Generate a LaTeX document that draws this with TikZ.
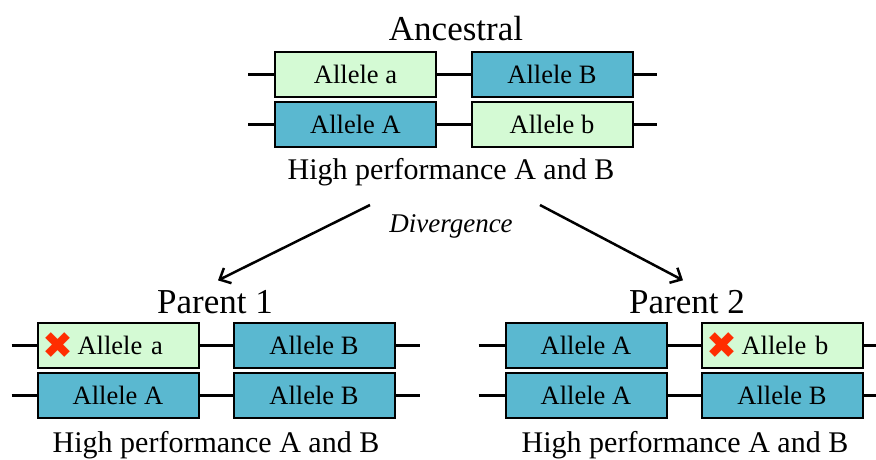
\documentclass[tikz,border=0pt]{standalone}
\usepackage{fontspec}
\setmainfont{Liberation Serif}
\newfontfamily\symfont{DejaVu Sans}
\usepackage{xcolor}
\usetikzlibrary{arrows.meta}

\definecolor{allelelow}{RGB}{212,250,212}
\definecolor{allelehigh}{RGB}{90,184,208}
\definecolor{crossred}{RGB}{255,45,0}
\newcommand{\xmark}{\smash{\raisebox{-4pt}{\symfont\fontsize{37}{37}\selectfont\textcolor{crossred}{✖}}}}

\begin{document}
\begin{tikzpicture}[x=1pt, y=-1pt,
	box/.style={draw, line width=2pt, minimum width=161pt, minimum height=45pt, inner sep=0pt, font=\fontsize{26.5}{28}\selectfont},
	lowbox/.style={box, fill=allelelow},
	highbox/.style={box, fill=allelehigh},
	lostbox/.style={lowbox, inner xsep=5pt, text width=151pt, align=left},
	chrom/.style={line width=3pt},
	title/.style={anchor=base, font=\fontsize{35}{40}\selectfont},
	perf/.style={anchor=base, font=\fontsize{30}{34}\selectfont},
	divarrow/.style={line width=2.5pt, -{Straight Barb[length=9pt, width=17pt, line width=2.5pt]}}]
	\useasboundingbox (0, 0) rectangle (876, 459);

	% ancestral
		\node[title] (anc) at (456, 40) {Ancestral};
		\node[lowbox] (anca) at (355.5, 74.5) {Allele a};
		\node[highbox] (ancB) at (552, 74.5) {Allele B};
		\node[highbox] (ancA) at (355.5, 124.5) {Allele A};
		\node[lowbox] (ancb) at (552, 124.5) {Allele b};
		\draw[chrom] ([xshift=-26pt]anca.west) -- (anca.west) (anca.east) -- (ancB.west) (ancB.east) -- ([xshift=23pt]ancB.east);
		\draw[chrom] ([xshift=-26pt]ancA.west) -- (ancA.west) (ancA.east) -- (ancb.west) (ancb.east) -- ([xshift=23pt]ancb.east);
		\node[perf] (ancperf) at (451, 179) {High performance A and B};

	% divergence
		\node[font=\fontsize{27}{28}\selectfont\itshape, anchor=base] (div) at (451, 232) {Divergence};
		\coordinate (divL) at (370, 205);
		\coordinate (divR) at (540, 205);

	% parent 1
		\node[title] (pone) at (215, 313) {Parent 1};
		\node[lostbox] (ponea) at (118, 345) {\xmark\hspace{4pt}Allele a};
		\node[highbox] (poneB) at (314, 345) {Allele B};
		\node[highbox] (poneA) at (118, 395) {Allele A};
		\node[highbox] (poneBB) at (314, 395) {Allele B};
		\draw[chrom] ([xshift=-25pt]ponea.west) -- (ponea.west) (ponea.east) -- (poneB.west) (poneB.east) -- ([xshift=24pt]poneB.east);
		\draw[chrom] ([xshift=-25pt]poneA.west) -- (poneA.west) (poneA.east) -- (poneBB.west) (poneBB.east) -- ([xshift=24pt]poneBB.east);
		\node[perf] (poneperf) at (216, 452) {High performance A and B};

	% parent 2
		\node[title] (ptwo) at (687, 313) {Parent 2};
		\node[highbox] (ptwoA) at (586, 345) {Allele A};
		\node[lostbox] (ptwob) at (782, 345) {\xmark\hspace{4pt}Allele b};
		\node[highbox] (ptwoAA) at (586, 395) {Allele A};
		\node[highbox] (ptwoB) at (782, 395) {Allele B};
		\draw[chrom] ([xshift=-26pt]ptwoA.west) -- (ptwoA.west) (ptwoA.east) -- (ptwob.west) (ptwob.east) -- ([xshift=24pt]ptwob.east);
		\draw[chrom] ([xshift=-26pt]ptwoAA.west) -- (ptwoAA.west) (ptwoAA.east) -- (ptwoB.west) (ptwoB.east) -- ([xshift=24pt]ptwoB.east);
		\node[perf] (ptwoperf) at (685, 452) {High performance A and B};

		\draw[divarrow] (divL) -- ([shift={(3pt, 6pt)}]pone.north);
		\draw[divarrow] (divR) -- ([shift={(-4pt, 6pt)}]ptwo.north);
	\end{tikzpicture}
\end{document}
